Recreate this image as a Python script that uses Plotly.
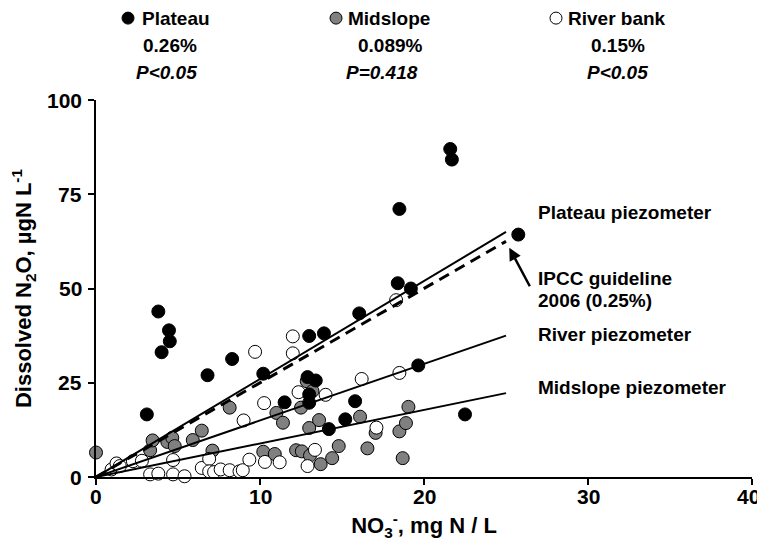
import plotly.graph_objects as go

# ---------------- data ----------------
plateau_x = [3.1, 3.8, 4.0, 4.45, 4.5, 6.8, 8.3, 10.2, 11.5, 12.9, 13.0, 13.0, 13.4, 13.0,
             13.9, 14.2, 15.2, 15.8, 16.05, 18.4, 18.5, 19.2, 19.65, 21.6, 21.7, 22.5, 25.75]
plateau_y = [16.6, 43.9, 33.1, 38.9, 36.0, 27.0, 31.3, 27.4, 19.8, 26.5, 21.9, 19.7, 25.6, 37.4,
             38.1, 12.7, 15.3, 20.1, 43.4, 51.4, 71.1, 50.0, 29.6, 87.0, 84.2, 16.6, 64.3]

midslope_x = [0.0, 3.3, 3.45, 4.35, 4.65, 4.8, 5.9, 6.45, 7.1, 8.15, 10.2, 10.9, 11.0, 11.4,
              12.2, 12.55, 12.5, 12.85, 13.2, 13.0, 13.05, 13.6, 13.7, 14.4, 14.8, 16.1,
              16.55, 17.05, 18.5, 18.7, 18.9, 19.05]
midslope_y = [6.5, 7.1, 9.7, 9.3, 10.4, 8.2, 9.8, 12.3, 7.0, 18.4, 6.7, 6.1, 17.0, 14.4,
              7.1, 6.8, 18.4, 25.4, 22.8, 13.0, 5.7, 15.1, 3.4, 5.0, 8.2, 16.0,
              7.6, 11.7, 12.1, 5.0, 14.3, 18.6]

river_x = [0.95, 1.25, 1.45, 2.25, 2.8, 3.3, 3.8, 4.7, 4.7, 5.4, 6.45, 6.9, 6.9, 7.2, 7.6,
           8.15, 8.75, 8.95, 9.0, 9.35, 9.7, 10.25, 10.3, 11.2, 12.0, 12.0, 12.35, 12.9,
           13.35, 14.0, 16.2, 17.1, 18.3, 18.5]
river_y = [2.0, 3.6, 2.9, 4.2, 4.3, 0.7, 0.9, 0.7, 4.5, 0.2, 2.4, 4.8, 1.5, 1.3, 2.0,
           1.8, 1.5, 1.8, 15.0, 4.6, 33.2, 19.6, 4.0, 3.9, 37.3, 32.8, 22.5, 2.9,
           7.2, 21.8, 26.0, 13.1, 46.9, 27.6]

# emission factors (%) shown in the header, and the IPCC default
series_names = ["Plateau", "Midslope", "River bank"]
ef_labels = ["0.26%", "0.089%", "0.15%"]
p_labels = ["P<0.05", "P=0.418", "P<0.05"]
ef_plateau, ef_midslope, ef_river, ef_ipcc = 0.26, 0.089, 0.15, 0.25
line_x_end = 25.0

x_ticks = [0, 10, 20, 30, 40]
y_ticks = [0, 25, 50, 75, 100]

FONT = "Liberation Sans, Arial, Helvetica, sans-serif"
GRAY = "#808080"

fig = go.Figure()

marker_line = dict(color="black", width=1)
fig.add_trace(go.Scatter(x=midslope_x, y=midslope_y, mode="markers", cliponaxis=False,
                         marker=dict(size=13, color=GRAY, line=marker_line), showlegend=False))
fig.add_trace(go.Scatter(x=river_x, y=river_y, mode="markers", cliponaxis=False,
                         marker=dict(size=13, color="white", line=marker_line), showlegend=False))
fig.add_trace(go.Scatter(x=plateau_x, y=plateau_y, mode="markers", cliponaxis=False,
                         marker=dict(size=13, color="black", line=marker_line), showlegend=False))


def line_pts(ef):
    # ef in % : µg N2O-N / L per mg NO3-N / L = ef * 10
    return [0, line_x_end], [0, ef * 10 * line_x_end]


for ef in (ef_plateau, ef_river, ef_midslope):
    lx, ly = line_pts(ef)
    fig.add_trace(go.Scatter(x=lx, y=ly, mode="lines", line=dict(color="black", width=2),
                             showlegend=False))
lx, ly = line_pts(ef_ipcc)
fig.add_trace(go.Scatter(x=lx, y=ly, mode="lines",
                         line=dict(color="black", width=3, dash="11px,7px"), showlegend=False))

font_b = dict(family=FONT, size=19, color="black", weight="bold")
tick_font = dict(family=FONT, size=21, color="black", weight="bold")
title_font = dict(family=FONT, size=22, color="black", weight="bold")
annots = []
shapes = []

# bold tick labels, placed on the axes' tick values
for v in y_ticks:
    annots.append(dict(x=0, y=v, xref="paper", yref="y", text="<b>%d</b>" % v,
                       showarrow=False, xanchor="right", yanchor="middle", xshift=-12,
                       font=tick_font))
for v in x_ticks:
    annots.append(dict(x=v, y=0, xref="x", yref="paper", text="<b>%d</b>" % v,
                       showarrow=False, xanchor="center", yanchor="top", yshift=-6,
                       xshift=-4 if v == x_ticks[-1] else 0, font=tick_font))

# header (legend-like block), paper coordinates
bullet_x = [0.0488, 0.3659, 0.7012]
name_x = [0.0671, 0.3811, 0.7165]
ef_x = [0.1128, 0.4482, 0.7957]
p_x = [0.1082, 0.4360, 0.7957]
row_y = [1.2172, 1.1457, 1.0742]
bullet_fill = ["black", GRAY, "white"]
for i in range(3):
    annots.append(dict(x=name_x[i], y=row_y[0], xref="paper", yref="paper",
                       text="<b>" + series_names[i] + "</b>",
                       showarrow=False, xanchor="left", yanchor="middle", font=font_b))
    annots.append(dict(x=ef_x[i], y=row_y[1], xref="paper", yref="paper",
                       text="<b>" + ef_labels[i] + "</b>",
                       showarrow=False, xanchor="center", yanchor="middle", font=font_b))
    annots.append(dict(x=p_x[i], y=row_y[2], xref="paper", yref="paper",
                       text="<b><i>" + p_labels[i].replace("<", "&lt;") + "</i></b>",
                       showarrow=False, xanchor="center", yanchor="middle", font=font_b))
    shapes.append(dict(type="circle", xref="paper", yref="paper", xsizemode="pixel",
                       ysizemode="pixel", xanchor=bullet_x[i], yanchor=row_y[0],
                       x0=-6, x1=6, y0=-6, y1=6,
                       fillcolor=bullet_fill[i], line=dict(color="black", width=1)))

# right-hand labels
right = [
    (70.2, "Plateau piezometer"),
    (52.65, "IPCC guideline"),
    (46.8, "2006 (0.25%)"),
    (37.8, "River piezometer"),
    (23.7, "Midslope piezometer"),
]
for yv, t in right:
    annots.append(dict(x=26.83, y=yv, xref="x", yref="y", text="<b>" + t + "</b>",
                       showarrow=False, xanchor="left", yanchor="middle", font=font_b))

# arrow to the IPCC line
annots.append(dict(x=25.2, y=60.8, ax=26.5, ay=50.2, xref="x", yref="y", axref="x", ayref="y",
                   text="", showarrow=True, arrowhead=2, arrowsize=1, arrowwidth=2.5,
                   arrowcolor="black"))

# the page body adds an 8px offset; figure sized to fill the 765x546 window
fig.update_layout(
    width=757, height=538,
    margin=dict(l=88, r=13, t=92, b=68.5),
    paper_bgcolor="white", plot_bgcolor="white",
    font=dict(family=FONT, color="black"),
    annotations=annots, shapes=shapes,
    xaxis=dict(range=[0, 40], tickvals=x_ticks, showticklabels=False,
               showgrid=False, zeroline=False, automargin=False,
               showline=True, linecolor="black", linewidth=2, ticks="outside", ticklen=6,
               tickwidth=1.5, tickcolor="black",
               title=dict(text="<b>NO<sub>3</sub><sup>-</sup>, mg N / L</b>",
                          font=title_font, standoff=34)),
    yaxis=dict(range=[0, 100], tickvals=y_ticks, showticklabels=False,
               showgrid=False, zeroline=False, automargin=False,
               showline=True, linecolor="black", linewidth=2, ticks="outside", ticklen=6,
               tickwidth=1.5, tickcolor="black",
               title=dict(text="<b>Dissolved N<sub>2</sub>O, µgN L<sup>-1</sup></b>",
                          font=title_font, standoff=55)),
)

fig.write_html("out.html")
